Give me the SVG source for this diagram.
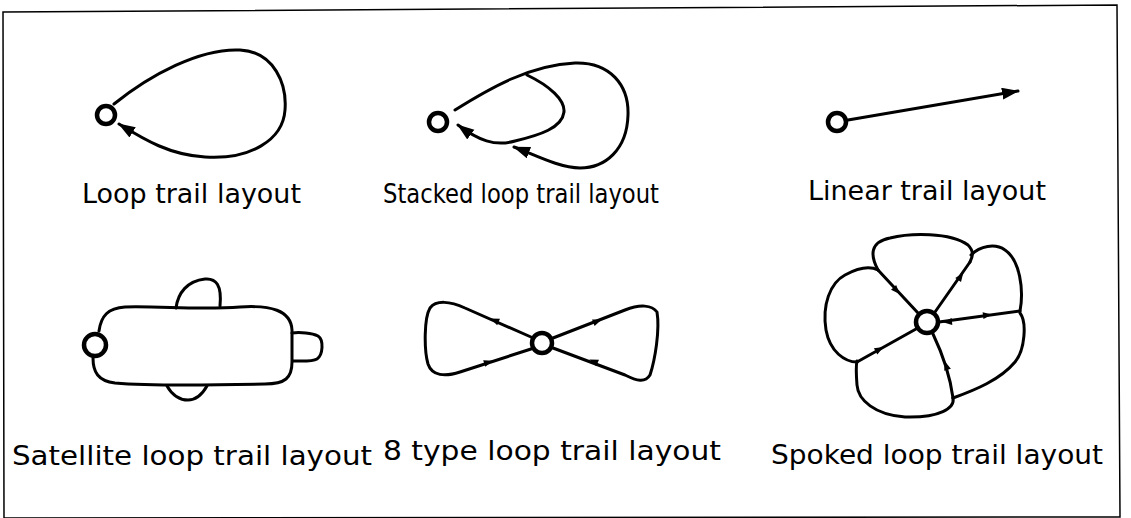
<svg xmlns="http://www.w3.org/2000/svg" width="1131" height="518" viewBox="0 0 1131 518">
<style>
.ln{fill:none;stroke:#000;stroke-width:3;stroke-linejoin:round;stroke-linecap:round}
.nd{fill:#fff;stroke:#000;stroke-width:4.5}
.lb{font-family:"DejaVu Sans","Noto Sans",sans-serif;font-size:26px;fill:#000}
.ah{fill:#000}
</style>
<defs>
<marker id="arr" markerUnits="userSpaceOnUse" markerWidth="20" markerHeight="14" refX="16" refY="6" orient="auto">
<path d="M0,0 L17,6 L0,12 Z" fill="#000"/>
</marker>
<path id="sa" d="M4,0 L-5,-3.5 L-5,3.5 Z"/>
</defs>
<rect width="1131" height="518" fill="#fff"/>
<polygon points="3,12 1117,5 1120,517 4,518" fill="none" stroke="#000" stroke-width="1.5"/>

<g id="connectors">
<!-- loop -->
<path class="ln" marker-end="url(#arr)" d="M114,104 C150,75 200,48 240,50 C275,52 287,85 285,110 C283,140 250,160 205,157 C170,155 145,140 119,124"/>
<!-- stacked -->
<path class="ln" marker-end="url(#arr)" d="M455,110 C490,88 530,65 575,63 C610,62 629,85 628,115 C627,150 605,168 580,168 C560,168 535,155 514,147"/>
<path class="ln" marker-end="url(#arr)" d="M527,75 C550,86 565,100 564,112 C562,128 540,135 515,141 C495,147 478,140 458,125"/>
<!-- linear -->
<path class="ln" marker-end="url(#arr)" d="M848,120 L1018,91"/>
<!-- satellite -->
<path class="ln" d="M99,331 C101,316 108,308 125,307 C160,306 200,310 240,307 C270,305 291,310 292,330 L292,362 C292,378 285,384 265,384 C220,385 150,386 115,383 C98,381 93,372 93,358"/>
<path class="ln" d="M176,308 C178,293 187,281 205,279 C216,278 222,285 220,306"/>
<path class="ln" d="M292,333 C300,332 312,333 318,336 C324,340 323,355 317,359 C312,362 300,361 293,361"/>
<path class="ln" d="M167,386 C172,395 180,400 188,400 C197,400 203,393 207,386"/>
<!-- 8 type -->
<path class="ln" d="M531,337 L465,308 C450,301 436,300 430,308 C424,318 424,350 428,364 C432,376 445,377 460,372 L531,349"/>
<path class="ln" d="M553,338 L625,310 C640,304 652,305 657,312 C660,330 655,360 650,375 C645,383 637,381 625,375 L553,348"/>
<use href="#sa" class="ah" transform="translate(494,320) rotate(203)"/>
<use href="#sa" class="ah" transform="translate(489,362) rotate(-18)"/>
<use href="#sa" class="ah" transform="translate(598,321) rotate(-21)"/>
<use href="#sa" class="ah" transform="translate(593,361) rotate(203)"/>
<!-- spoked -->
<path class="ln" d="M878,270 C870,255 870,242 890,238 C910,233 950,232 968,245 C975,252 972,258 970,262"/>
<path class="ln" d="M971,255 C980,246 995,243 1005,250 C1020,260 1024,290 1020,311"/>
<path class="ln" d="M1020,313 C1027,322 1025,350 1015,362 C1000,380 975,390 953,398"/>
<path class="ln" d="M953,398 C955,408 940,418 905,417 C875,415 858,400 857,385 C856,372 856,365 857,361"/>
<path class="ln" d="M857,362 C845,362 830,352 826,330 C822,305 830,283 845,275 C858,268 870,266 878,270"/>
<path class="ln" d="M878,270 L918,313"/>
<path class="ln" d="M970,262 L935,312"/>
<path class="ln" d="M1020,311 L939,322"/>
<path class="ln" d="M953,398 C950,375 943,355 933,334"/>
<path class="ln" d="M857,362 L916,329"/>
<use href="#sa" class="ah" transform="translate(897,291) rotate(47)"/>
<use href="#sa" class="ah" transform="translate(961,276) rotate(-55)"/>
<use href="#sa" class="ah" transform="translate(988,315) rotate(-7)"/>
<use href="#sa" class="ah" transform="translate(946,365) rotate(-108)"/>
<use href="#sa" class="ah" transform="translate(880,349) rotate(-29)"/>
<use href="#sa" class="ah" transform="translate(947,322) rotate(175)"/>
</g>

<g id="loop">
<circle class="nd" cx="106" cy="115" r="9"/>
<text class="lb" x="82" y="203" textLength="219" lengthAdjust="spacingAndGlyphs">Loop trail layout</text>
</g>
<g id="stacked">
<circle class="nd" cx="438" cy="122" r="9"/>
<text class="lb" x="383" y="203" textLength="276" lengthAdjust="spacingAndGlyphs">Stacked loop trail layout</text>
</g>
<g id="linear">
<circle class="nd" cx="837" cy="122" r="9"/>
<text class="lb" x="808" y="200" textLength="238" lengthAdjust="spacingAndGlyphs">Linear trail layout</text>
</g>
<g id="satellite">
<circle class="nd" cx="95" cy="345" r="11"/>
<text class="lb" x="12" y="465" textLength="360" lengthAdjust="spacingAndGlyphs">Satellite loop trail layout</text>
</g>
<g id="eight">
<circle class="nd" cx="542" cy="343" r="10"/>
<text class="lb" x="383" y="460" textLength="338" lengthAdjust="spacingAndGlyphs">8 type loop trail layout</text>
</g>
<g id="spoked">
<circle class="nd" cx="927" cy="322" r="11"/>
<text class="lb" x="771" y="464" textLength="332" lengthAdjust="spacingAndGlyphs">Spoked loop trail layout</text>
</g>
</svg>
